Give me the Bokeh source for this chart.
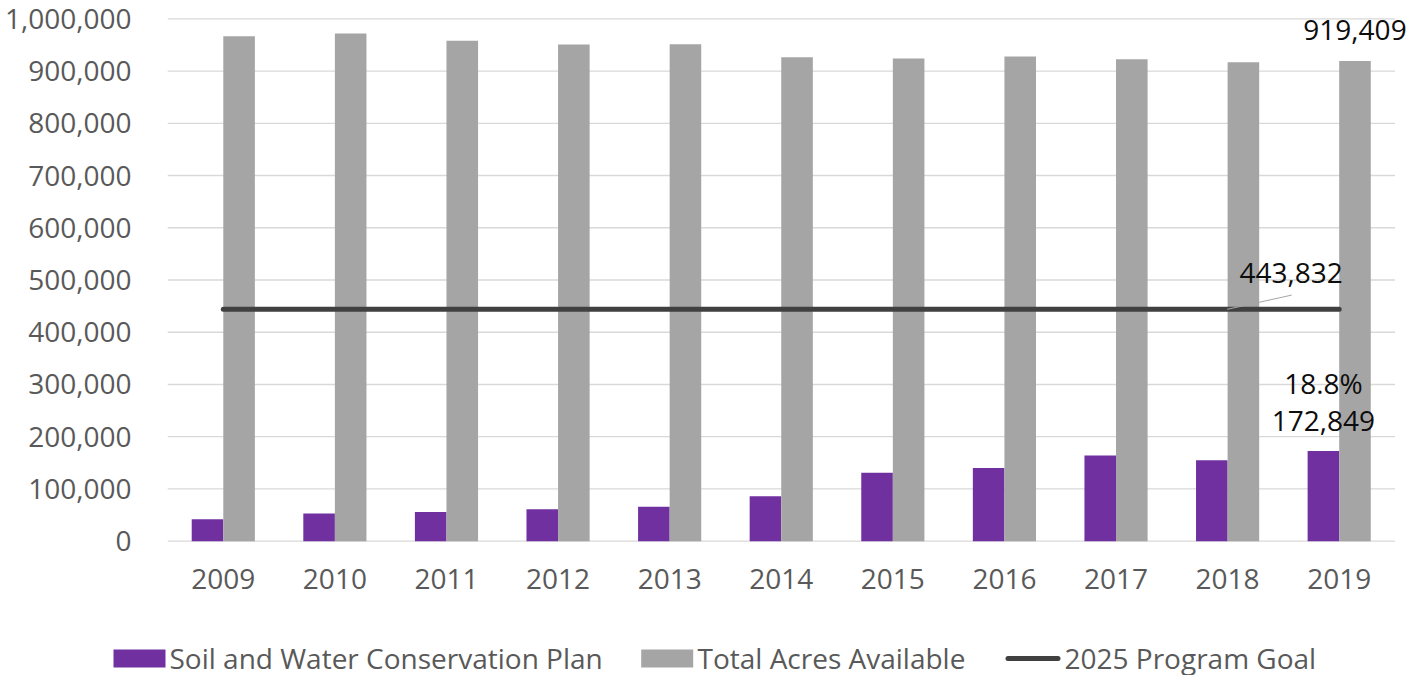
from bokeh.plotting import figure
from bokeh.layouts import column
from bokeh.models import (Range1d, FixedTicker, NumeralTickFormatter, ColumnDataSource)
from bokeh.core.properties import value
from bokeh.embed import file_html
from bokeh.resources import INLINE

# ---------------- data ----------------
years = ["2009", "2010", "2011", "2012", "2013", "2014", "2015", "2016", "2017", "2018", "2019"]
plan_acres = [42000, 53000, 56000, 61000, 66000, 86000, 131000, 140000, 164000, 155000, 172849]
total_acres = [966700, 971900, 957900, 950800, 951400, 926500, 924000, 927800, 922600, 916900, 919409]
goal_acres = 443832
y_ticks = [0, 100000, 200000, 300000, 400000, 500000, 600000, 700000, 800000, 900000, 1000000]
series_names = ["Soil and Water Conservation Plan", "Total Acres Available", "2025 Program Goal"]

# ---------------- style ----------------
FONT = "Open Sans"
PURPLE = "#7030A0"
GRAY = "#A5A5A5"
LINE = "#404040"
AXIS_TXT = "#595959"
LBL_TXT = "#0d0d0d"
GRID = "#d9d9d9"
BW = 0.283
OFF = 0.1415
W = 1409
LEFT = 167
MAIN_H = 620
LEG_H = 55

xs = list(range(len(years)))
n = len(years)

p = figure(x_range=Range1d(-0.5, n - 0.5 + 0.13),
           y_range=Range1d(-2500, 1002500),
           width=W, height=MAIN_H,
           output_backend="svg", toolbar_location=None,
           min_border_left=LEFT, min_border_right=0,
           min_border_top=17, min_border_bottom=78)
p.frame_align = False

p.outline_line_color = None
p.xgrid.grid_line_color = None
p.ygrid.grid_line_color = None

p.xaxis.ticker = FixedTicker(ticks=xs)
p.xaxis.major_label_overrides = {i: y for i, y in zip(xs, years)}
p.yaxis.ticker = FixedTicker(ticks=y_ticks)
p.yaxis.formatter = NumeralTickFormatter(format="0,0")
for ax in (p.xaxis, p.yaxis):
    ax.axis_line_color = None
    ax.major_tick_line_color = None
    ax.minor_tick_line_color = None
    ax.major_label_text_font = FONT
    ax.major_label_text_font_size = "28px"
    ax.major_label_text_color = AXIS_TXT
p.yaxis.major_label_standoff = 30
p.xaxis.major_label_standoff = 20

# horizontal gridlines spanning the category area only
grid_src = ColumnDataSource(dict(y=y_ticks, x0=[xs[0] - 0.5] * len(y_ticks),
                                 x1=[xs[-1] + 0.5] * len(y_ticks)))
p.segment(x0="x0", x1="x1", y0="y", y1="y", source=grid_src,
          line_color=GRID, line_width=1.3)

src = ColumnDataSource(dict(
    xp=[x - OFF for x in xs], xt=[x + OFF for x in xs],
    plan=plan_acres, total=total_acres))

p.vbar(x="xp", top="plan", width=BW, source=src, fill_color=PURPLE, line_color=None)
p.vbar(x="xt", top="total", width=BW, source=src, fill_color=GRAY, line_color=None)
p.line(x=xs, y=[goal_acres] * n, line_color=LINE, line_width=5, line_cap="round")

# ---------------- data labels ----------------
xl = xs[-1]
lab = ColumnDataSource(dict(
    xt=[xl + OFF], xp=[xl - OFF], xg=[xl],
    total=[total_acres[-1]], total_t=[f"{total_acres[-1]:,}"],
    plan=[plan_acres[-1]], plan_t=[f"{plan_acres[-1]:,}"],
    pct_t=[f"{plan_acres[-1] / total_acres[-1] * 100:.1f}%"],
    goal=[goal_acres], goal_t=[f"{goal_acres:,}"],
    lx0=[xl - 1.004], lx1=[xl - 0.425], goal_lead=[goal_acres + 27300],
))
common = dict(source=lab, text_align="center", text_baseline="alphabetic",
              text_font=value(FONT), text_font_size="28px", text_color=LBL_TXT)
p.text(x="xt", y="total", text="total_t", y_offset=-31, **common)
p.text(x="xp", y="plan", text="plan_t", y_offset=-30, **common)
p.text(x="xp", y="plan", text="pct_t", y_offset=-68, **common)
p.text(x="xg", y="goal", text="goal_t", x_offset=-48, y_offset=-36, **common)
p.segment(x0="lx0", y0="goal", x1="lx1", y1="goal_lead",
          source=lab, line_color="#a6a6a6", line_width=1)

# ---------------- legend (separate strip, pixel-unit ranges) ----------------
leg = figure(x_range=Range1d(0, W), y_range=Range1d(0, LEG_H),
             width=W, height=LEG_H, output_backend="svg", toolbar_location=None,
             x_axis_type=None, y_axis_type=None,
             min_border_left=0, min_border_right=0, min_border_top=0, min_border_bottom=0)
leg.frame_align = False
leg.outline_line_color = None
leg.xgrid.grid_line_color = None
leg.ygrid.grid_line_color = None

sw = ColumnDataSource(dict(x=[139, 666.7], y=[17, 17], c=[PURPLE, GRAY]))
leg.rect(x="x", y="y", width=52, height=18, fill_color="c", line_color=None, source=sw)
leg.segment(x0=[1007.5], x1=[1057.5], y0=[17], y1=[17],
            line_color=LINE, line_width=5, line_cap="round")
leg_txt = ColumnDataSource(dict(x=[169, 697, 1064], y=[18, 18, 18], t=series_names))
leg.text(x="x", y="y", text="t", source=leg_txt, text_align="left",
         text_baseline="alphabetic", text_font=value(FONT),
         text_font_size="28px", text_color=AXIS_TXT)

layout = column(p, leg, spacing=0)
open("out.html", "w").write(file_html(layout, INLINE))
